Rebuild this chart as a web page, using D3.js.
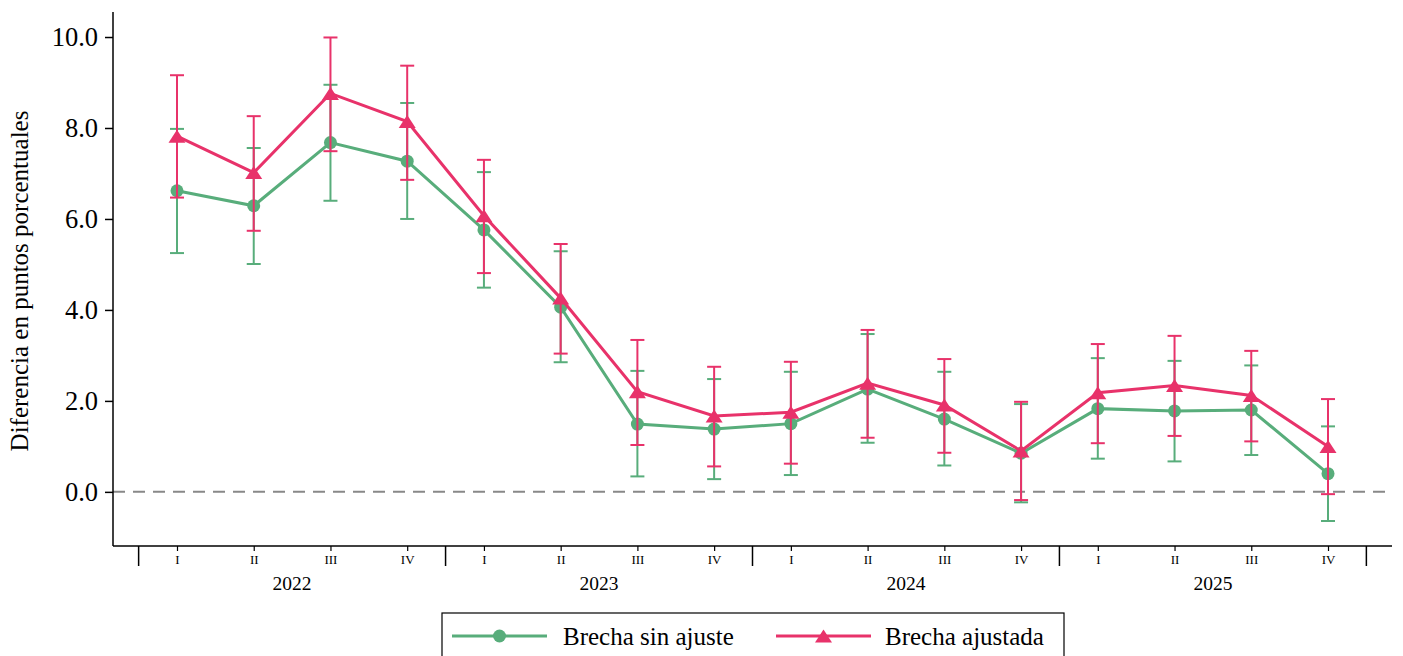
<!DOCTYPE html>
<html>
<head>
<meta charset="utf-8">
<script src="https://cdn.jsdelivr.net/npm/d3@7"></script>
<style>
  html, body { margin: 0; padding: 0; background: #fff; }
  svg { display: block; font-family: "Liberation Serif", "Times New Roman", serif; }
  svg text { font-family: "Liberation Serif", "Times New Roman", serif; }
</style>
</head>
<body>
<svg id="chart" width="1403" height="656"></svg>
<script>
// ---- Data ----
const years = ["2022", "2023", "2024", "2025"];
const quarters = ["I", "II", "III", "IV"];
const yTicks = [0, 2, 4, 6, 8, 10];

const sinAjuste = [6.62, 6.29, 7.68, 7.27, 5.76, 4.06, 1.49, 1.38, 1.50, 2.26, 1.60, 0.85, 1.83, 1.78, 1.80, 0.40];
const sinAjusteLo = [5.25, 5.01, 6.40, 6.00, 4.49, 2.85, 0.34, 0.28, 0.37, 1.08, 0.58, -0.23, 0.73, 0.67, 0.81, -0.64];
const sinAjusteHi = [7.98, 7.56, 8.95, 8.55, 7.03, 5.29, 2.66, 2.48, 2.64, 3.47, 2.64, 1.93, 2.94, 2.88, 2.78, 1.44];

const ajustada = [7.82, 7.02, 8.76, 8.14, 6.07, 4.26, 2.20, 1.67, 1.75, 2.39, 1.91, 0.90, 2.18, 2.34, 2.12, 1.00];
const ajustadaLo = [6.47, 5.74, 7.49, 6.86, 4.81, 3.04, 1.03, 0.56, 0.62, 1.19, 0.86, -0.18, 1.07, 1.23, 1.11, -0.05];
const ajustadaHi = [9.16, 8.26, 9.99, 9.37, 7.30, 5.45, 3.34, 2.75, 2.86, 3.56, 2.92, 1.98, 3.25, 3.43, 3.10, 2.04];

const seriesNames = ["Brecha sin ajuste", "Brecha ajustada"];
const colors = ["#58ad7b", "#e8326a"];

// ---- Layout ----
const svg = d3.select("#chart");
const plotLeft = 113, plotRight = 1392, plotTop = 12, plotBottom = 546;
const n = years.length * quarters.length;

const x = d3.scaleLinear().domain([-0.834, n - 1 + 0.834]).range([plotLeft, plotRight]);
const y = d3.scaleLinear().domain([-1.19, 10.55]).range([plotBottom, plotTop]);

// zero reference line
svg.append("line")
  .attr("x1", plotLeft).attr("x2", plotRight)
  .attr("y1", y(0)).attr("y2", y(0))
  .attr("stroke", "#888").attr("stroke-width", 2)
  .attr("stroke-dasharray", "12,8");

// Y axis
const yAxis = d3.axisLeft(y).tickValues(yTicks).tickFormat(d3.format(".1f")).tickSize(8).tickPadding(7);
const gy = svg.append("g").attr("transform", `translate(${plotLeft},0)`).call(yAxis);
gy.select(".domain").attr("d", `M0,${plotTop}V${plotBottom}`).attr("stroke", "#000").attr("stroke-width", 1.5);
gy.selectAll(".tick line").attr("stroke", "#000").attr("stroke-width", 1.5);
gy.selectAll(".tick text").attr("font-size", 26.5).attr("font-family", "Liberation Serif, serif").attr("fill", "#000");

// Y title
svg.append("text")
  .attr("transform", `translate(28,281) rotate(-90)`)
  .attr("text-anchor", "middle")
  .attr("font-size", 25)
  .attr("fill", "#000")
  .text("Diferencia en puntos porcentuales");

// X axis (quarters)
const idx = d3.range(n);
const xAxis = d3.axisBottom(x).tickValues(idx).tickFormat(i => quarters[i % 4]).tickSize(5).tickPadding(4);
const gx = svg.append("g").attr("transform", `translate(0,${plotBottom})`).call(xAxis);
gx.select(".domain").attr("d", `M${plotLeft},0H${plotRight}`).attr("stroke", "#000").attr("stroke-width", 1.5);
gx.selectAll(".tick line").attr("stroke", "#000").attr("stroke-width", 1.2);
gx.selectAll(".tick text").attr("font-size", 13).attr("font-family", "Liberation Serif, serif").attr("fill", "#000");

// Year separators
const seps = d3.range(years.length + 1).map(k => k * 4 - 0.5);
svg.append("g").selectAll("line").data(seps).join("line")
  .attr("x1", d => x(d)).attr("x2", d => x(d))
  .attr("y1", plotBottom).attr("y2", plotBottom + 20)
  .attr("stroke", "#000").attr("stroke-width", 1.5);

// Year labels
svg.append("g").selectAll("text").data(years).join("text")
  .attr("x", (d, k) => x(k * 4 + 1.5))
  .attr("y", plotBottom + 44)
  .attr("text-anchor", "middle")
  .attr("font-size", 19.5)
  .attr("fill", "#000")
  .text(d => d);

// ---- Markers ----
const triW = 17, triH = 13;
const triPath = `M0,${-triH / 2}L${triW / 2},${triH / 2}L${-triW / 2},${triH / 2}Z`;
const cirSym = d3.symbol().type(d3.symbolCircle).size(Math.PI * 6.5 * 6.5);
const markerPath = shape => shape === "circle" ? cirSym() : triPath;

// ---- Series ----
const seriesData = [
  { vals: sinAjuste, lo: sinAjusteLo, hi: sinAjusteHi, shape: "circle" },
  { vals: ajustada, lo: ajustadaLo, hi: ajustadaHi, shape: "triangle" }
];
const capW = 7;

seriesData.forEach((s, si) => {
  const g = svg.append("g");
  const c = colors[si];
  // error bars
  const eb = g.append("g").selectAll("g").data(idx).join("g");
  eb.append("line")
    .attr("x1", i => x(i)).attr("x2", i => x(i))
    .attr("y1", i => y(s.lo[i])).attr("y2", i => y(s.hi[i]))
    .attr("stroke", c).attr("stroke-width", 2);
  eb.append("line")
    .attr("x1", i => x(i) - capW).attr("x2", i => x(i) + capW)
    .attr("y1", i => y(s.lo[i])).attr("y2", i => y(s.lo[i]))
    .attr("stroke", c).attr("stroke-width", 2);
  eb.append("line")
    .attr("x1", i => x(i) - capW).attr("x2", i => x(i) + capW)
    .attr("y1", i => y(s.hi[i])).attr("y2", i => y(s.hi[i]))
    .attr("stroke", c).attr("stroke-width", 2);
  // line
  g.append("path")
    .datum(idx)
    .attr("fill", "none")
    .attr("stroke", c).attr("stroke-width", 3)
    .attr("d", d3.line().x(i => x(i)).y(i => y(s.vals[i])));
  // markers
  g.append("g").selectAll("path").data(idx).join("path")
    .attr("transform", i => `translate(${x(i)},${y(s.vals[i])})`)
    .attr("d", markerPath(s.shape))
    .attr("fill", c);
});

// ---- Legend ----
const lg = svg.append("g");
lg.append("rect")
  .attr("x", 442).attr("y", 613).attr("width", 622).attr("height", 60)
  .attr("fill", "#fff").attr("stroke", "#000").attr("stroke-width", 1.2);
const legendItems = [
  { x0: 452, x1: 547, tx: 563, shape: "circle" },
  { x0: 776, x1: 871, tx: 885, shape: "triangle" }
];
legendItems.forEach((it, k) => {
  const ly = 636;
  lg.append("line")
    .attr("x1", it.x0).attr("x2", it.x1).attr("y1", ly).attr("y2", ly)
    .attr("stroke", colors[k]).attr("stroke-width", 3);
  lg.append("path")
    .attr("transform", `translate(${(it.x0 + it.x1) / 2},${ly})`)
    .attr("d", markerPath(it.shape))
    .attr("fill", colors[k]);
  lg.append("text")
    .attr("x", it.tx).attr("y", 645)
    .attr("font-size", 25)
    .attr("fill", "#000")
    .text(seriesNames[k]);
});
</script>
</body>
</html>
